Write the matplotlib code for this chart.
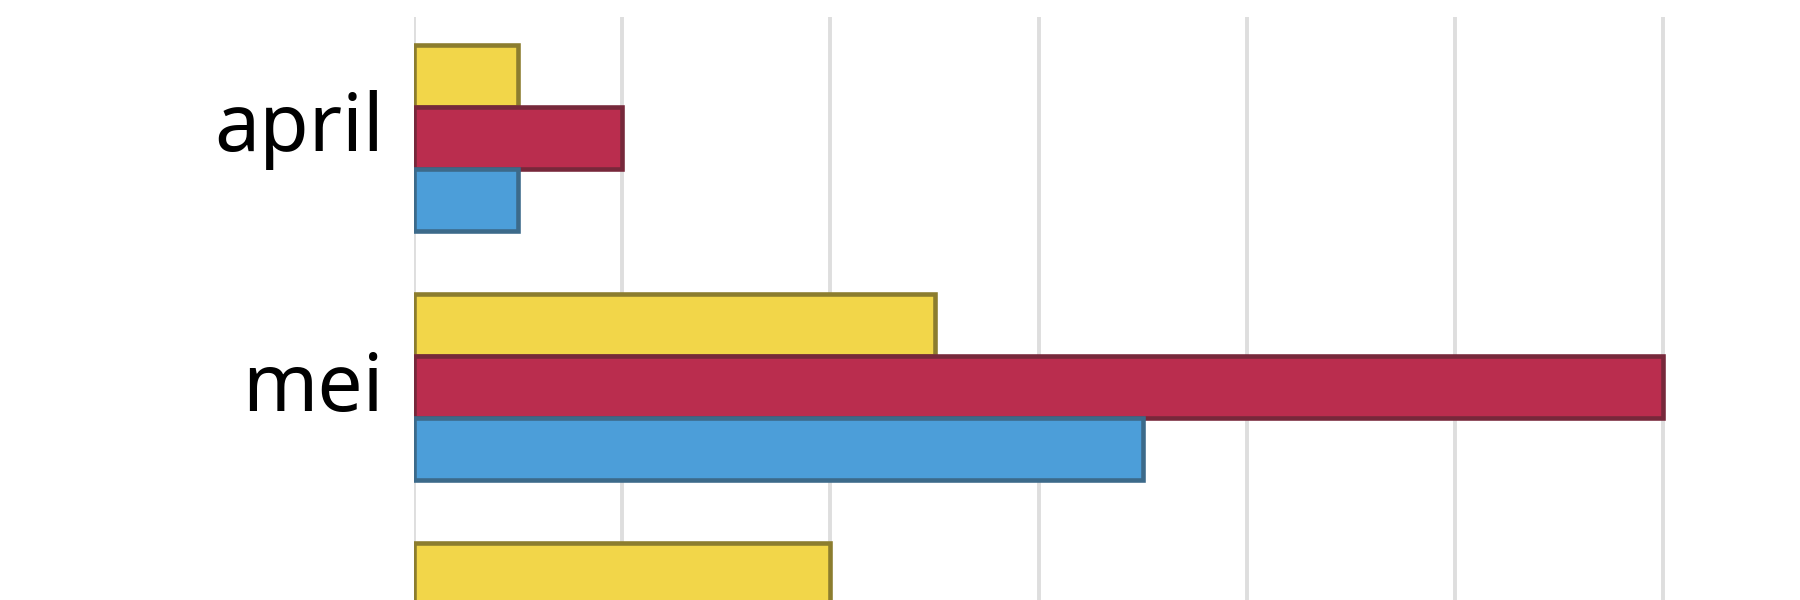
import numpy as np
import matplotlib
matplotlib.use("Agg")
import matplotlib.pyplot as plt
import matplotlib.transforms as mtransforms

# data
months = ["april", "mei", "juni"]
serie_geel = [0.5, 2.5, 2.0]
serie_rood = [1.0, 6.0, 3.0]
serie_blauw = [0.5, 3.5, 1.5]

kleuren = {"geel": ("#F2D649", "#8C7D2E"),
           "rood": ("#BA2D4E", "#77283B"),
           "blauw": ("#4C9ED9", "#3C6A8A")}

W, H = 1800, 600
fig = plt.figure(figsize=(18, 6), dpi=100)
fig.patch.set_facecolor("white")

# axes reaches past the bottom of the figure, only the top part shows
top_px = 17
ylo, yhi = -0.486, 2.6
px_per_unit = 249.0
ax_h = (yhi - ylo) * px_per_unit
left_px, right_px = 414, 414 + 208.2 * 6.6
ax = fig.add_axes([left_px / W, (H - top_px - ax_h) / H,
                   (right_px - left_px) / W, ax_h / H])

y = np.arange(len(months))
h = 0.25
for off, vals, key in [(-h, serie_geel, "geel"), (0, serie_rood, "rood"), (h, serie_blauw, "blauw")]:
    ax.barh(y + off, vals, height=h, color=kleuren[key][0],
            edgecolor=kleuren[key][1], linewidth=3.3, zorder=3)

ax.set_ylim(yhi, ylo)
ax.set_xlim(0, 6.6)
ax.set_xticks(np.arange(0, 7))
ax.set_xticklabels([])
ax.grid(axis="x", color="#dedede", linewidth=2.8, zorder=0)
ax.set_axisbelow(True)
for s in ax.spines.values():
    s.set_visible(False)
ax.tick_params(axis="both", length=0)
ax.set_yticks(y)
ax.set_yticklabels([])

# month labels, centred on their ink (so words with a descender sit higher)
for yi, m in zip(y[:2], months[:2]):
    drop = 13 if any(c in "gjpqy" for c in m) else 24
    tr = ax.get_yaxis_transform() + mtransforms.ScaledTranslation(
        -30 / 100, -drop / 100, fig.dpi_scale_trans)
    ax.text(0, yi, m, transform=tr, ha="right", va="baseline",
            fontsize=58, fontfamily="Noto Sans", color="black")

fig.savefig("out.png", dpi=100)
